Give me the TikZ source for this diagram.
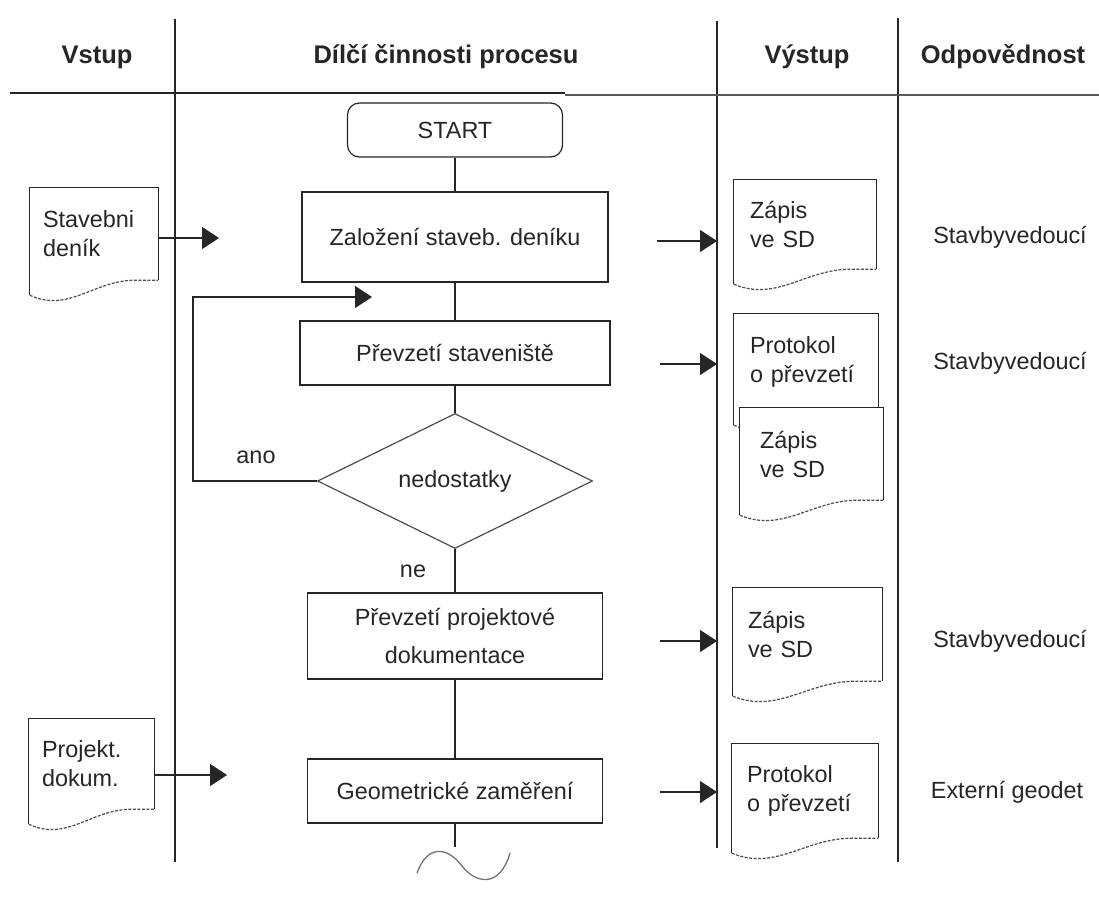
\documentclass[tikz,border=0pt]{standalone}
\usepackage{fontspec}
\setmainfont{Liberation Sans}
\usetikzlibrary{arrows.meta,shapes.geometric,calc}

% outline of a document symbol around a node: solid top and sides, dashed wavy bottom
\newcommand\mydocframe[1]{%
  \draw[frame] (#1.south east) -- (#1.north east) -- (#1.north west) -- ($(#1.south west)+(0,15)$);
  \draw[wave] ($(#1.south west)+(0,15)$)
    .. controls ($(#1.south west)!.3!(#1.south east)+(0,33)$) and ($(#1.south west)!.5!(#1.south east)$)
    .. ($(#1.south west)!.82!(#1.south east)$) -- (#1.south east);}

\begin{document}
\begin{tikzpicture}[x=1pt,y=-1pt,
  every node/.style={font=\fontsize{23.4}{29}\selectfont, text=black!85},
  head/.style={font=\fontsize{25.5}{30}\selectfont\bfseries},
  frame/.style={line width=1.2pt, draw=black!85},
  wave/.style={line width=1.2pt, draw=black!70, dash pattern=on 3pt off 1.5pt},
  lane/.style={line width=1.5pt, draw=black!85},
  conn/.style={line width=1.2pt, draw=black!85},
  arr/.style={conn, -{Triangle[length=17pt,width=22pt]}},
  procbox/.style={draw=black!85, line width=1.2pt, rectangle, inner sep=0pt, align=center},
  doc/.style={fill=white, inner ysep=0pt, align=left},
]
\useasboundingbox (0,0) rectangle (1099,905);

% swim lane rules and header
\draw[lane] (175,19) -- (175,862);
\draw[lane] (717,21) -- (717,848);
\draw[lane] (898,18) -- (898,862);
\draw[line width=1.8pt, black!85] (10,93) -- (565,93);
\draw[line width=1.8pt, black!65] (565,95) -- (1099,95);

\node[head] (h1) at (97,57) {Vstup};
\node[head] (h2) at (446,57) {Dílčí činnosti procesu};
\node[head] (h3) at (807,57) {Výstup};
\node[head] (h4) at (1003,57) {Odpovědnost};

% process steps
\node[procbox, rounded corners=12pt, minimum width=215pt, minimum height=54pt] (start) at (455,130) {START};
\node[procbox, minimum width=306pt, minimum height=90pt] (zal) at (455,237) {Založení staveb. deníku};
\node[procbox, minimum width=310pt, minimum height=64pt] (prev) at (455,353) {Převzetí staveniště};
\node[draw=black!70, line width=1.2pt, diamond, inner sep=0pt, minimum width=275pt, minimum height=132pt] (dia) at (455,481) {nedostatky};
\node[procbox, minimum width=295pt, minimum height=86pt] (ppd) at (455,636) {Převzetí projektové\\[9pt]dokumentace};
\node[procbox, minimum width=295pt, minimum height=64pt] (geo) at (455,791) {Geometrické zaměření};

\draw[conn] (start) -- (zal);
\draw[conn] (zal) -- (prev);
\draw[conn] (prev) -- (dia);
\draw[conn] (dia) -- (ppd);
\draw[conn] (ppd) -- (geo);
\coordinate (geoend) at (455,847);
\draw[conn] (geo) -- (geoend);

% continuation mark
\draw[line width=1.3pt, black!55] (417,873) .. controls (427,845) and (447,846) .. (462,866)
  .. controls (476,884) and (500,888) .. (510,853);

% loop back on defects
\coordinate (lp) at (193,481);
\coordinate (lpend) at (372,297);
\draw[arr] (dia.west) -- (dia.west -| lp) |- (lpend);
\node (ano) at (256,457) {ano};
\node (ne) at (413,571) {ne};

% inputs
\node[doc, inner xsep=13pt, text width=102pt, minimum height=92pt] (sd) at (94,234) {Stavebni\\deník};
\mydocframe{sd}
\coordinate (sdin) at (219,238);
\draw[arr] ([yshift=-4pt]sd.east) -- (sdin);

\node[doc, inner xsep=13pt, text width=99pt, minimum height=90pt] (pd) at (91.5,764) {Projekt.\\dokum.};
\mydocframe{pd}
\coordinate (pdin) at (227,775);
\draw[arr] ([yshift=-11pt]pd.east) -- (pdin);

% outputs
\node[doc, inner xsep=16pt, text width=110pt, minimum height=89pt] (z1) at (805,224.5) {Zápis\\ve SD};
\mydocframe{z1}
\node[doc, inner xsep=16pt, text width=112pt, minimum height=96pt] (p1) at (806,362) {Protokol\\o převzetí};
\mydocframe{p1}
\node[doc, inner xsep=20pt, text width=103pt, minimum height=92pt] (z2) at (811.5,454) {Zápis\\ve SD};
\mydocframe{z2}
\node[doc, inner xsep=15pt, text width=119pt, minimum height=93pt] (z3) at (807.5,634.5) {Zápis\\ve SD};
\mydocframe{z3}
\node[doc, inner xsep=15pt, text width=116pt, minimum height=94pt] (p2) at (805,791) {Protokol\\o převzetí};
\mydocframe{p2}

\coordinate (o1a) at (657,241); \coordinate (o1b) at (717,241);
\coordinate (o2a) at (660,364); \coordinate (o2b) at (717,364);
\coordinate (o3a) at (660,641); \coordinate (o3b) at (717,641);
\coordinate (o4a) at (660,792); \coordinate (o4b) at (717,792);
\draw[arr] (o1a) -- (o1b);
\draw[arr] (o2a) -- (o2b);
\draw[arr] (o3a) -- (o3b);
\draw[arr] (o4a) -- (o4b);

% responsibilities
\node (r1) at (1010,237) {Stavbyvedoucí};
\node (r2) at (1010,363) {Stavbyvedoucí};
\node (r3) at (1010,641) {Stavbyvedoucí};
\node (r4) at (1007,792) {Externí geodet};
\end{tikzpicture}
\end{document}
